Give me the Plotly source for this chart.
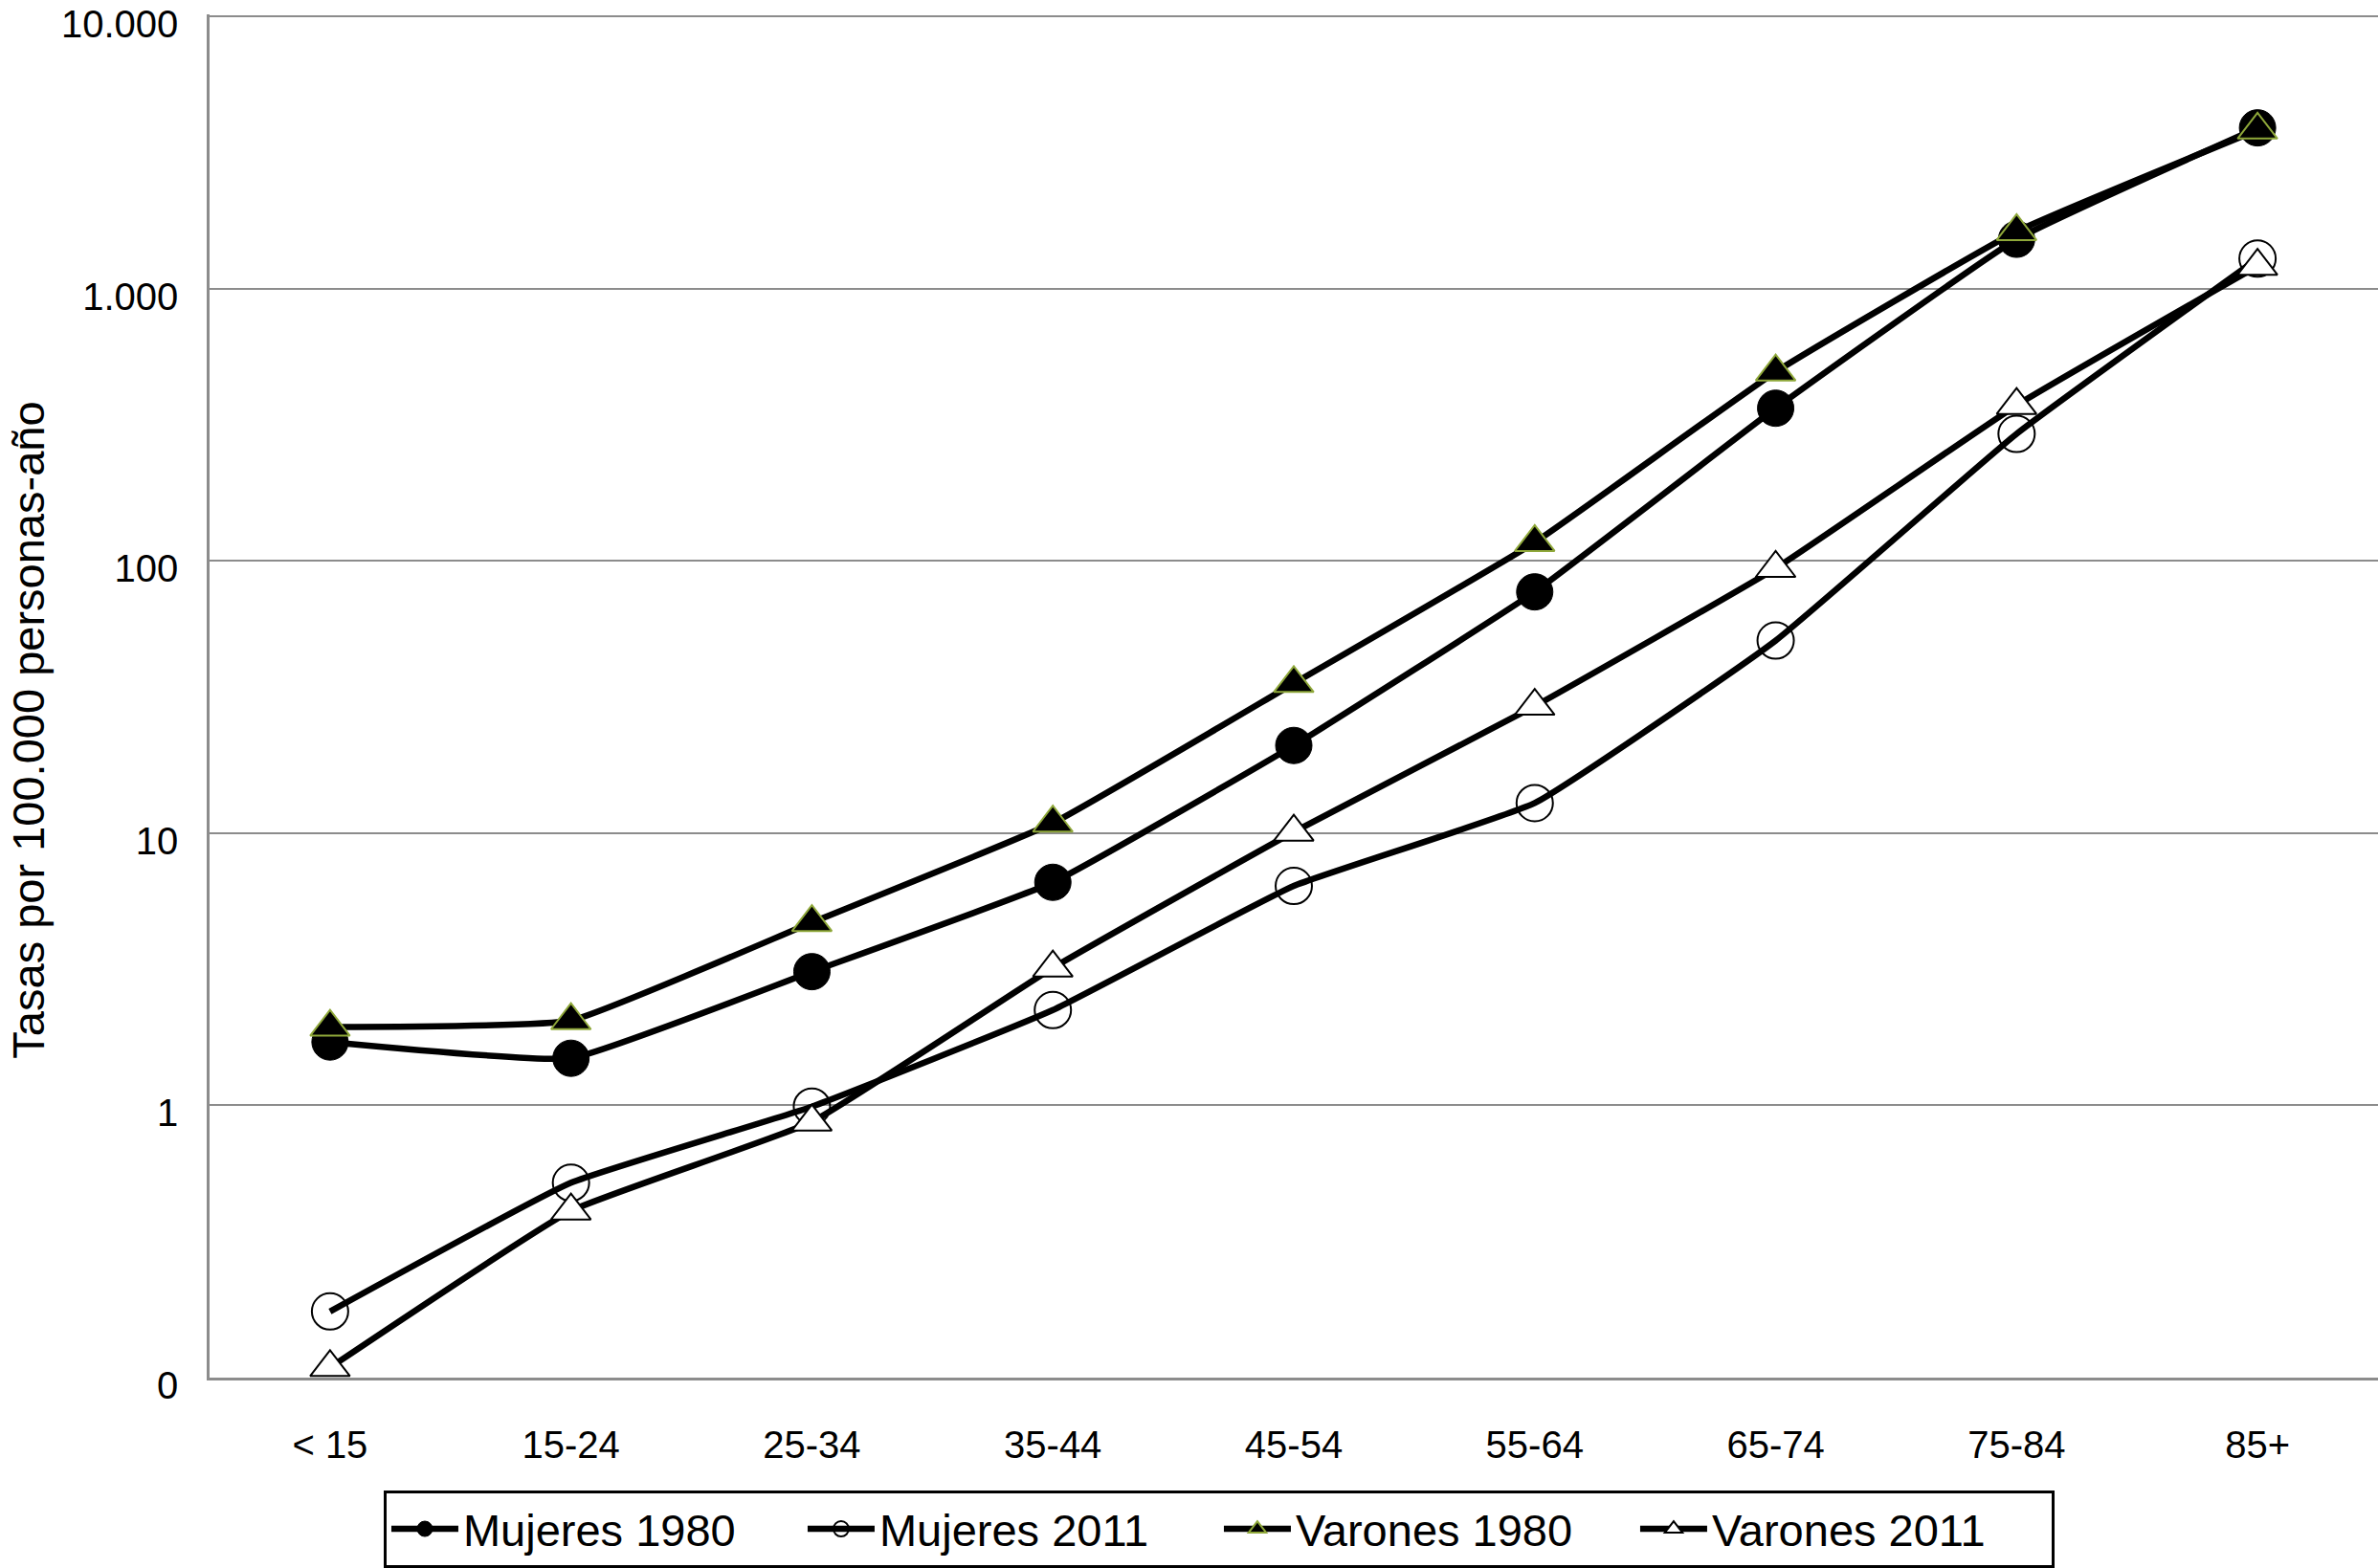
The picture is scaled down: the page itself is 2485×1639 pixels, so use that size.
import plotly.graph_objects as go

categories = ["< 15", "15-24", "25-34", "35-44", "45-54", "55-64", "65-74", "75-84", "85+"]

mujeres_1980 = [1.71, 1.49, 3.1, 6.6, 21, 77, 364, 1520, 3900]
mujeres_2011 = [0.175, 0.52, 0.99, 2.24, 6.4, 12.9, 51, 293, 1290]
varones_1980 = [1.94, 2.05, 4.7, 10.9, 35.5, 117, 495, 1624, 3830]
varones_2011 = [0.109, 0.41, 0.87, 3.2, 10.1, 29.3, 94, 373, 1211]

y_tickvals = [0.1, 1, 10, 100, 1000, 10000]
y_ticktext = ["0", "1", "10", "100", "1.000", "10.000"]

FONT = "Liberation Sans, Arial, Helvetica, sans-serif"

series = [
    ("Mujeres 1980", mujeres_1980, dict(symbol="circle", color="black", size=38,
                                        line=dict(color="black", width=1))),
    ("Mujeres 2011", mujeres_2011, dict(symbol="circle-open", color="black", size=38,
                                        line=dict(color="black", width=2))),
    ("Varones 1980", varones_1980, dict(symbol="triangle-up", color="black", size=36,
                                        line=dict(color="#8fa83a", width=2))),
    ("Varones 2011", varones_2011, dict(symbol="triangle-up", color="white", size=36,
                                        line=dict(color="black", width=2))),
]

fig = go.Figure()
for name, vals, marker in series:
    fig.add_trace(go.Scatter(
        x=categories, y=vals, name=name, mode="lines+markers",
        line=dict(color="black", width=6.5, shape="spline", smoothing=0.35),
        marker=marker,
    ))

fig.add_annotation(
    text="Tasas por 100.000 personas-año", textangle=-90,
    xref="paper", yref="paper", x=-0.0962, y=0.475,
    xanchor="left", yanchor="middle", showarrow=False,
    font=dict(family=FONT, size=47, color="black"),
)

fig.update_layout(
    width=2485, height=1639,
    margin=dict(l=219, r=0, t=15, b=199, autoexpand=False),
    paper_bgcolor="white", plot_bgcolor="white",
    font=dict(family=FONT, color="black", size=40),
    showlegend=True,
    legend=dict(
        orientation="h", x=0.0803, xanchor="left", y=-0.0828, yanchor="top",
        bordercolor="black", borderwidth=3, bgcolor="white",
        font=dict(family=FONT, size=47, color="black"),
        entrywidth=350, entrywidthmode="pixels", itemwidth=70,
    ),
    xaxis=dict(
        type="category", range=[-0.5, 8.5], automargin=False,
        showgrid=False, showline=True, linecolor="#8c8c8c", linewidth=2.5,
        ticks="", ticklabelstandoff=33,
        tickfont=dict(family=FONT, size=40, color="black"),
        zeroline=False,
    ),
    yaxis=dict(
        type="log", range=[-1, 4.008], automargin=False,
        tickvals=y_tickvals, ticktext=y_ticktext,
        showgrid=True, gridcolor="#8c8c8c", gridwidth=2,
        showline=True, linecolor="#8c8c8c", linewidth=2.5,
        ticks="", ticklabelstandoff=22, ticklabelshift=8, ticklabeloverflow="allow",
        tickfont=dict(family=FONT, size=40, color="black"),
        zeroline=False,
    ),
)

fig.write_html("out.html", config={"displayModeBar": False},
               post_script="document.body.style.margin='0';")
